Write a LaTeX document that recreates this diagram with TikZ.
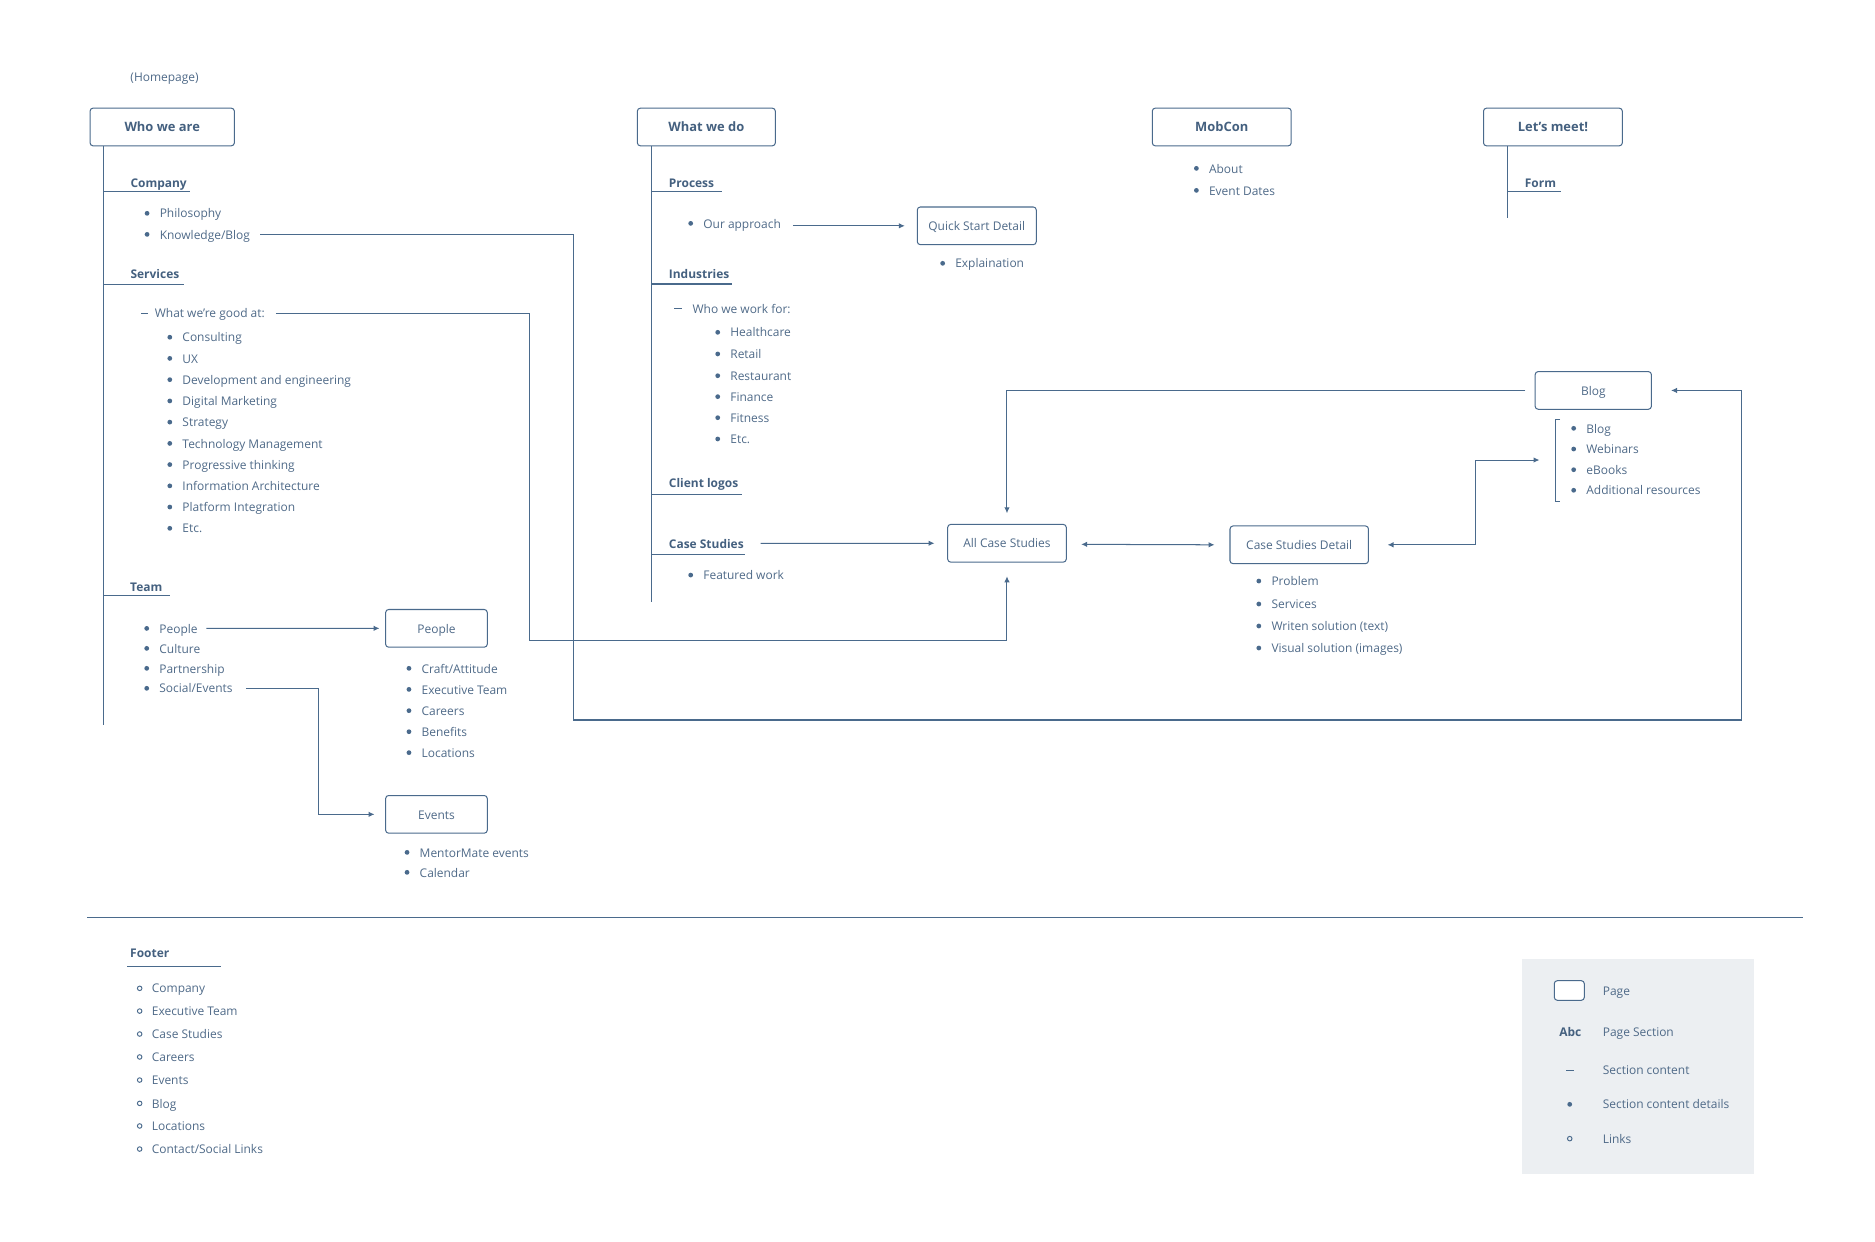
\documentclass[tikz,border=0pt]{standalone}
\usepackage{fontspec}
\setmainfont{Open Sans}
\usetikzlibrary{arrows.meta}
\definecolor{tc}{HTML}{4F6A88}
\definecolor{hc}{HTML}{44607F}
\definecolor{lc}{HTML}{4A6A8C}
\definecolor{lg}{HTML}{ECEFF2}
\newcommand\fr{\fontsize{10}{12}\selectfont}
\newcommand\fh{\fontsize{10}{12}\selectfont\bfseries}
\newcommand\fbx{\fontsize{10.8}{13}\selectfont\bfseries}
\newcommand\blt[4]{\fill[lc] (#2,#3) circle[radius=2pt]; \node[it] (#1) at ({#2+10.4},#3) {#4};}
\newcommand\lkt[4]{\draw[lc,line width=0.8pt] (#2,#3) circle[radius=1.9pt]; \node[it] (#1) at ({#2+10},#3) {#4};}
\begin{document}
\begin{tikzpicture}[x=1pt,y=-1pt,
 it/.style={anchor=west,inner sep=0pt,text height=7.8pt,text depth=0pt,font=\fr,text=tc},
 hd/.style={it,font=\fh,text=hc},
 page/.style={draw=lc,line width=0.85pt,rounded corners=2.5pt,fill=white,inner sep=0pt,text height=7.8pt,text depth=0pt,font=\fr,text=tc,minimum height=31.5pt},
 pagebold/.style={page,font=\fbx,text=hc},
 ln/.style={draw=lc,line width=0.85pt},
 arr/.style={ln,-{Latex[length=5pt,width=4.6pt]}},
 arr2/.style={ln,{Latex[length=5pt,width=4.6pt]}-{Latex[length=5pt,width=4.6pt]}}]
\useasboundingbox (0,0) rectangle (1568,1038.6);

% ---- top boxes
\node[it] (home) at (108.9,64.5) {(Homepage)};
\node[pagebold,minimum width=120.7pt] (who) at (135.65,106.2) {Who we are};
\node[pagebold,minimum width=115.4pt] (what) at (590.7,106.2) {What we do};
\node[pagebold,minimum width=116.2pt] (mob) at (1021.7,106.2) {MobCon};
\node[pagebold,minimum width=116.1pt] (lets) at (1298.65,106.2) {Let’s meet!};

% ---- Who we are column
\draw[ln] ([xshift=12pt]who.south west) -- ++(0,483.9);
\node[hd] (hcomp) at (109,152.8) {Company};
\draw[ln] (87.3,160) -- (158.5,160);
\blt{phil}{123}{178.4}{Philosophy}
\blt{kb}{123}{196}{Knowledge/Blog}
\node[hd] (hserv) at (109,229) {Services};
\draw[ln] (87.3,237.8) -- (154,237.8);
\draw[lc,line width=0.8pt] (118,262) -- (124,262);
\node[it] (good) at (129.3,262) {What we’re good at:};
\blt{s1}{142}{282}{Consulting}
\blt{s2}{142}{299.7}{UX}
\blt{s3}{142}{317.5}{Development and engineering}
\blt{s4}{142}{335.3}{Digital Marketing}
\blt{s5}{142}{353}{Strategy}
\blt{s6}{142}{370.8}{Technology Management}
\blt{s7}{142}{388.5}{Progressive thinking}
\blt{s8}{142}{406.3}{Information Architecture}
\blt{s9}{142}{424}{Platform Integration}
\blt{s10}{142}{441.8}{Etc.}
\node[hd] (hteam) at (108.7,490.6) {Team};
\draw[ln] (87.3,498.4) -- (142.2,498.4);
\blt{tpeople}{122.7}{525.5}{People}
\blt{tcult}{122.7}{542.2}{Culture}
\blt{tpart}{122.7}{558.9}{Partnership}
\blt{tsoc}{122.7}{575.6}{Social/Events}

\node[page,minimum width=85pt] (people) at (365,525.45) {People};
\blt{p1}{342}{558.9}{Craft/Attitude}
\blt{p2}{342}{576.5}{Executive Team}
\blt{p3}{342}{594.3}{Careers}
\blt{p4}{342}{611.9}{Benefits}
\blt{p5}{342}{629.4}{Locations}
\node[page,minimum width=85pt] (events) at (365,681) {Events};
\blt{e1}{340.4}{712.8}{MentorMate events}
\blt{e2}{340.4}{729.5}{Calendar}

% ---- What we do column
\draw[ln] ([xshift=12.5pt]what.south west) -- ++(0,381.2);
\node[hd] (hproc) at (559.2,152.5) {Process};
\draw[ln] (545.5,160) -- (603.5,160);
\blt{oa}{577.6}{186.8}{Our approach}
\node[hd] (hind) at (559.2,228.9) {Industries};
\draw[ln] (545.5,237.5) -- (612,237.5);
\draw[lc,line width=0.8pt] (564,258.1) -- (570.3,258.1);
\node[it] (wwf) at (579,258.1) {Who we work for:};
\blt{i1}{600.2}{277.9}{Healthcare}
\blt{i2}{600.2}{296}{Retail}
\blt{i3}{600.2}{314.2}{Restaurant}
\blt{i4}{600.2}{331.7}{Finance}
\blt{i5}{600.2}{349.3}{Fitness}
\blt{i6}{600.2}{367.1}{Etc.}
\node[hd] (hcl) at (559.2,403.4) {Client logos};
\draw[ln] (545.5,413.4) -- (620.2,413.4);
\node[hd] (hcs) at (559.2,454.4) {Case Studies};
\draw[ln] (545.5,463.3) -- (623,463.3);
\blt{fw}{577.6}{480.9}{Featured work}

\node[page,minimum width=99.5pt] (quick) at (816.85,188.85) {Quick Start Detail};
\blt{qx}{788.3}{220.2}{Explaination}

\node[page,minimum width=99.2pt] (allcs) at (842.1,454.3) {All Case Studies};
\node[page,minimum width=115.8pt] (csd) at (1086.5,455.6) {Case Studies Detail};
\blt{c1}{1052.7}{485.9}{Problem}
\blt{c2}{1052.7}{505.1}{Services}
\blt{c3}{1052.7}{523.5}{Writen solution (text)}
\blt{c4}{1052.7}{541.9}{Visual solution (images)}

\node[page,minimum width=97.2pt] (blog) at (1332.4,326.5) {Blog};
\draw[ln] (1304.7,350.7) -- (1300.6,350.7) -- (1300.6,419.2) -- (1304.7,419.2);
\blt{b1}{1316}{358.2}{Blog}
\blt{b2}{1316}{375.5}{Webinars}
\blt{b3}{1316}{392.8}{eBooks}
\blt{b4}{1316}{410}{Additional resources}

% ---- MobCon / Let's meet
\blt{m1}{1000.5}{140.8}{About}
\blt{m2}{1000.5}{159.2}{Event Dates}
\draw[ln] ([xshift=20.7pt]lets.south west) -- ++(0,60.2);
\node[hd] (hform) at (1275,152.5) {Form};
\draw[ln] (1261.3,160) -- (1305.1,160);

% ---- connectors
\coordinate (kbc1) at (479.7,602.1);
\draw[arr] ([xshift=8.5pt]kb.east) -| (kbc1) -| ([xshift=75pt]blog.east) -- ([xshift=16pt]blog.east);
\coordinate (gc1) at (443,535.3);
\draw[arr] ([xshift=9pt]good.east) -| (gc1) -| ([yshift=-11.5pt]allcs.south);
\draw[arr] ([xshift=7.2pt]tpeople.east) -- ([xshift=-4.7pt]people.west);
\coordinate (sc1) at (266.2,681);
\draw[arr] ([xshift=11pt]tsoc.east) -| (sc1) -- ([xshift=-8.9pt]events.west);
\coordinate (oaS) at ([xshift=9.8pt]oa.east);
\draw[arr] (oaS |- quick.west) -- ([xshift=-10pt]quick.west);
\draw[arr] ([xshift=14pt]hcs.east) -- ([xshift=-10.6pt]allcs.west);
\draw[arr2] ([xshift=12pt,yshift=-0.9pt]allcs.east) -- ([xshift=-12.5pt]csd.west);
\coordinate (bj) at (1233.8,384.7);
\coordinate (btip) at (1287.4,384.7);
\draw[arr2] ([xshift=15.5pt]csd.east) -| (bj) -- (btip);
\draw[arr] ([xshift=-7.7pt]blog.west) -| ([yshift=8.9pt]allcs.north);

% ---- divider and footer
\draw[ln] (73,767.1) -- (1508,767.1);
\node[hd] (hfoot) at (108.7,797.2) {Footer};
\draw[ln] (106.5,808.1) -- (184.8,808.1);
\lkt{f1}{116.8}{826.5}{Company}
\lkt{f2}{116.8}{845.5}{Executive Team}
\lkt{f3}{116.8}{864.7}{Case Studies}
\lkt{f4}{116.8}{883.9}{Careers}
\lkt{f5}{116.8}{903.2}{Events}
\lkt{f6}{116.8}{922.7}{Blog}
\lkt{f7}{116.8}{941.6}{Locations}
\lkt{f8}{116.8}{960.9}{Contact/Social Links}

% ---- legend
\fill[lg] (1272.8,802) rectangle (1466.8,981.8);
\node[page,minimum width=25.1pt,minimum height=16.4pt] (lgpage) at (1312.35,828.3) {};
\node[it] (lgt1) at (1340.2,828.7) {Page};
\node[hd,anchor=center] (lgabc) at (1313.2,863) {Abc};
\node[it] (lgt2) at (1340.2,863) {Page Section};
\draw[lc,line width=0.8pt] (1309.6,894.8) -- (1316.3,894.8);
\node[it] (lgt3) at (1340.2,894.8) {Section content};
\fill[lc] (1312.7,923.5) circle[radius=2pt];
\node[it] (lgt4) at (1340.2,923.5) {Section content details};
\draw[lc,line width=0.8pt] (1312.7,952.2) circle[radius=1.9pt];
\node[it] (lgt5) at (1340.2,952.2) {Links};
\end{tikzpicture}
\end{document}
